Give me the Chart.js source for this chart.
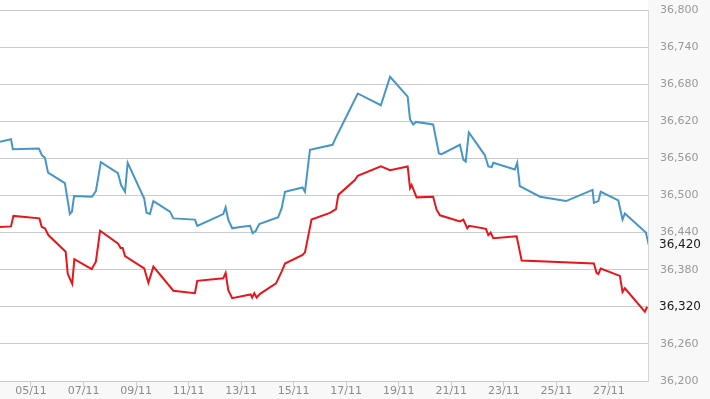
<!DOCTYPE html>
<html>
<head>
<meta charset="utf-8">
<script src="https://cdn.jsdelivr.net/npm/chart.js@4/dist/chart.umd.min.js"></script>
<style>
  html, body { margin: 0; padding: 0; background: #f8f8f8; }
  #wrap { width: 710px; height: 399px; }
</style>
</head>
<body>
<div id="wrap"><canvas id="chart" width="710" height="399"></canvas></div>
<script>
// day of November (fractional) and value
const blueX = [3.82, 4.24, 4.31, 5.30, 5.42, 5.53, 5.65, 6.29, 6.48, 6.56, 6.64, 7.32, 7.47, 7.66, 8.31, 8.43, 8.58, 8.68, 9.31, 9.40, 9.53, 9.66, 10.29, 10.42, 11.24, 11.33, 12.32, 12.41, 12.51, 12.66, 12.96, 13.34, 13.44, 13.56, 13.69, 14.41, 14.54, 14.67, 15.34, 15.43, 15.62, 16.48, 16.61, 16.95, 17.44, 18.32, 18.67, 19.34, 19.43, 19.55, 19.66, 20.31, 20.53, 20.63, 21.33, 21.46, 21.55, 21.67, 22.28, 22.41, 22.54, 22.60, 23.42, 23.51, 23.61, 24.38, 25.37, 26.38, 26.43, 26.60, 26.69, 27.36, 27.52, 27.61, 28.41, 28.52];
const blueY = [36587, 36591, 36575, 36576, 36565, 36561, 36537, 36520, 36470, 36474, 36499, 36498, 36507, 36554, 36536, 36517, 36506, 36553, 36495, 36472, 36470, 36491, 36474, 36463, 36461, 36451, 36470, 36481, 36461, 36447, 36449, 36451, 36439, 36443, 36454, 36465, 36479, 36506, 36513, 36506, 36574, 36582, 36594, 36623, 36665, 36646, 36692, 36660, 36623, 36615, 36619, 36615, 36568, 36567, 36582, 36558, 36555, 36602, 36565, 36547, 36546, 36553, 36542, 36553, 36515, 36498, 36491, 36509, 36488, 36491, 36506, 36492, 36461, 36471, 36440, 36420];

const redX = [3.82, 4.24, 4.33, 5.32, 5.41, 5.53, 5.66, 6.32, 6.40, 6.57, 6.65, 7.31, 7.47, 7.63, 8.32, 8.41, 8.49, 8.58, 9.31, 9.47, 9.66, 10.42, 11.24, 11.33, 12.32, 12.41, 12.51, 12.66, 13.36, 13.42, 13.50, 13.59, 13.72, 14.33, 14.54, 14.67, 15.34, 15.43, 15.68, 16.38, 16.61, 16.70, 17.33, 17.44, 18.32, 18.67, 19.34, 19.43, 19.49, 19.68, 20.31, 20.44, 20.57, 21.33, 21.46, 21.61, 21.68, 22.32, 22.41, 22.50, 22.60, 23.49, 23.68, 26.43, 26.53, 26.60, 26.69, 27.42, 27.52, 27.61, 28.37, 28.46];
const redY = [36449, 36450, 36467, 36463, 36449, 36447, 36436, 36409, 36373, 36357, 36397, 36381, 36393, 36443, 36422, 36415, 36415, 36402, 36382, 36359, 36385, 36346, 36342, 36362, 36366, 36375, 36347, 36334, 36340, 36335, 36342, 36335, 36341, 36358, 36377, 36390, 36404, 36408, 36461, 36472, 36478, 36501, 36525, 36532, 36547, 36541, 36547, 36512, 36517, 36497, 36498, 36477, 36468, 36458, 36461, 36447, 36451, 36446, 36436, 36440, 36431, 36434, 36395, 36390, 36375, 36373, 36382, 36370, 36344, 36350, 36312, 36320];

const xTicks = [5, 7, 9, 11, 13, 15, 17, 19, 21, 23, 25, 27];
const yMin = 36200, yMax = 36800, yStep = 60;

const lastValues = [blueY[blueY.length - 1], redY[redY.length - 1]];
const fmt = v => v.toLocaleString('en-US');

// white plot area on a light grey page
const plotBg = {
    id: 'plotBg',
    beforeDraw(chart) {
        const { ctx, chartArea: a } = chart;
        ctx.save();
        ctx.fillStyle = '#ffffff';
        ctx.fillRect(0, 0, a.right, a.top);
        ctx.fillRect(a.left, a.top, a.right - a.left, a.bottom - a.top);
        ctx.restore();
    }
};

// last value labels on the right axis
const lastLabels = {
    id: 'lastLabels',
    afterDraw(chart) {
        const { ctx, chartArea: a } = chart;
        const y = chart.scales.y;
        ctx.save();
        ctx.font = '12px "DejaVu Sans"';
        ctx.fillStyle = '#1a1a1a';
        ctx.textAlign = 'left';
        ctx.textBaseline = 'middle';
        lastValues.forEach(v => {
            ctx.fillText(fmt(v), a.right + 11, y.getPixelForValue(v));
        });
        ctx.restore();
    }
};

new Chart(document.getElementById('chart'), {
    type: 'line',
    data: {
        datasets: [{
            data: blueX.map((x, i) => ({ x: x, y: blueY[i] })),
            borderColor: '#4696c8',
            borderWidth: 2,
            pointRadius: 0,
            tension: 0
        }, {
            data: redX.map((x, i) => ({ x: x, y: redY[i] })),
            borderColor: '#e8161b',
            borderWidth: 2,
            pointRadius: 0,
            tension: 0
        }]
    },
    options: {
        responsive: false,
        animation: false,
        layout: { padding: { top: 10, left: 0, right: 0, bottom: 0 } },
        plugins: { legend: { display: false }, tooltip: { enabled: false } },
        scales: {
            x: {
                type: 'linear',
                min: 3.82,
                max: 28.49,
                afterBuildTicks: scale => { scale.ticks = xTicks.map(v => ({ value: v })); },
                afterFit: scale => {
                    scale.height = 18;
                    scale.paddingLeft = 0;
                    scale.paddingRight = 0;
                },
                grid: { drawOnChartArea: false, drawTicks: true, tickLength: 6, color: '#d0d0d0' },
                border: { display: true, color: '#c4ccd6' },
                ticks: {
                    padding: -2,
                    maxRotation: 0,
                    autoSkip: false,
                    color: '#8c8c8c',
                    font: { family: 'DejaVu Sans', size: 11 },
                    callback: v => String(v).padStart(2, '0') + '/11'
                }
            },
            y: {
                position: 'right',
                min: yMin,
                max: yMax,
                afterFit: scale => {
                    scale.width = 62;
                    scale.paddingTop = 0;
                    scale.paddingBottom = 0;
                },
                grid: { color: '#cccccc', drawTicks: false },
                border: { display: true, color: '#d4d4d4' },
                ticks: {
                    stepSize: yStep,
                    padding: 12,
                    color: ctx => lastValues.includes(ctx.tick.value) ? 'rgba(0,0,0,0)' : '#999999',
                    font: { family: 'DejaVu Sans', size: 11 },
                    callback: v => fmt(v)
                }
            }
        }
    },
    plugins: [plotBg, lastLabels]
});
</script>
</body>
</html>
